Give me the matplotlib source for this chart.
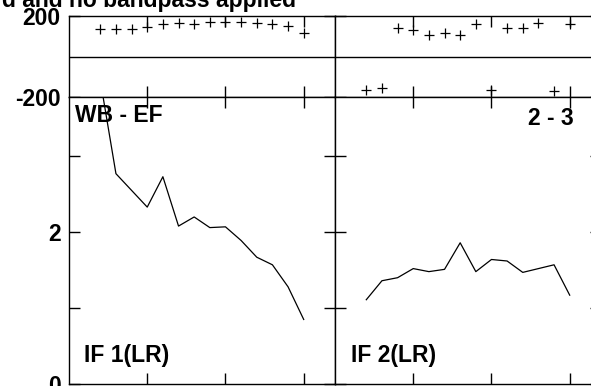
import matplotlib
matplotlib.use("Agg")
import matplotlib.pyplot as plt
from matplotlib.ticker import FixedLocator, FuncFormatter

plt.rcParams['font.family'] = ['Liberation Sans', 'DejaVu Sans']
plt.rcParams['font.weight'] = 'bold'
plt.rcParams['axes.unicode_minus'] = False

channels = [2, 3, 4, 5, 6, 7, 8, 9, 10, 11, 12, 13, 14, 15]

phase_if1 = [134, 136, 137, 144, 161, 167, 161, 172, 170, 169, 164, 159, 151, 115]
phase_if2 = [-165, -154, 139, 132, 106, 115, 106, 159, -165, 139, 141, 167, -169, 162]

amp_if1 = [4.0, 2.77, 2.55, 2.33, 2.73, 2.08, 2.20, 2.06, 2.07, 1.89, 1.67, 1.57, 1.28, 0.85]
amp_if2 = [1.11, 1.36, 1.40, 1.52, 1.48, 1.51, 1.86, 1.48, 1.64, 1.62, 1.47, 1.52, 1.57, 1.17]

x_ticks = [5, 10, 15]
phase_ticks = [-200, 200]
amp_ticks = [0, 1, 2, 3]
amp_tick_labels = {0: '0', 2: '2'}

title_text = 'd and no bandpass applied'
baseline_label = ['WB - EF', '2 - 3']
if_labels = ['IF 1(LR)', 'IF 2(LR)']

W, H = 591, 386
fig = plt.figure(figsize=(W / 100, H / 100), dpi=100)

FS = 16.5
panel_w = 266 / W
lefts = [69 / W, 335 / W]
ph_bottom = 1 - 97 / H
ph_h = 81 / H
amp_bottom = 1 - 384 / H
amp_h = 287 / H

phases = [phase_if1, phase_if2]
amps = [amp_if1, amp_if2]

for i in range(2):
    axp = fig.add_axes([lefts[i], ph_bottom, panel_w, ph_h])
    axa = fig.add_axes([lefts[i], amp_bottom, panel_w, amp_h])

    axp.plot(channels, phases[i], linestyle='none', marker='+', color='black',
             markersize=7, markeredgewidth=0.9)
    axp.axhline(0, color='black', lw=1.0)
    axp.set_xlim(0, 17)
    axp.set_ylim(-200, 200)
    axp.yaxis.set_major_locator(FixedLocator(phase_ticks))
    axp.xaxis.set_major_locator(FixedLocator(x_ticks))

    axa.plot(channels, amps[i], color='black', lw=0.9)
    axa.set_xlim(0, 17)
    axa.set_ylim(0, 3.78)
    axa.yaxis.set_major_locator(FixedLocator(amp_ticks))
    axa.xaxis.set_major_locator(FixedLocator(x_ticks))
    axa.yaxis.set_major_formatter(FuncFormatter(lambda v, p: amp_tick_labels.get(int(round(v)), '')))

    for ax in (axp, axa):
        ax.tick_params(direction='in', length=8, width=1.0, top=True, right=True,
                       labelsize=FS, pad=6)
        ax.tick_params(axis='x', labelbottom=False)
        for s in ax.spines.values():
            s.set_linewidth(1.0)
            s.set_color('black')
        if i == 1:
            ax.tick_params(axis='y', labelleft=False)
        for lab in ax.get_yticklabels():
            lab.set_fontweight('bold')

    if i == 0:
        axa.text(6 / 266, 1 - 7 / 287, baseline_label[0],
                 transform=axa.transAxes, ha='left', va='top', fontsize=FS, fontweight='bold')
    else:
        axa.text(238.3 / 266, 1 - 10 / 287, baseline_label[1],
                 transform=axa.transAxes, ha='right', va='top', fontsize=FS, fontweight='bold')
    lab_x = 15 / 266 if i == 0 else 15.7 / 266
    axa.text(lab_x, (384 - 362.3) / 287, if_labels[i], transform=axa.transAxes,
             ha='left', va='baseline', fontsize=FS, fontweight='bold')

fig.text(296 / W, 1 - 7.5 / H, title_text, ha='right', va='baseline',
         fontsize=FS, fontweight='bold')

fig.savefig('out.png', dpi=100)
